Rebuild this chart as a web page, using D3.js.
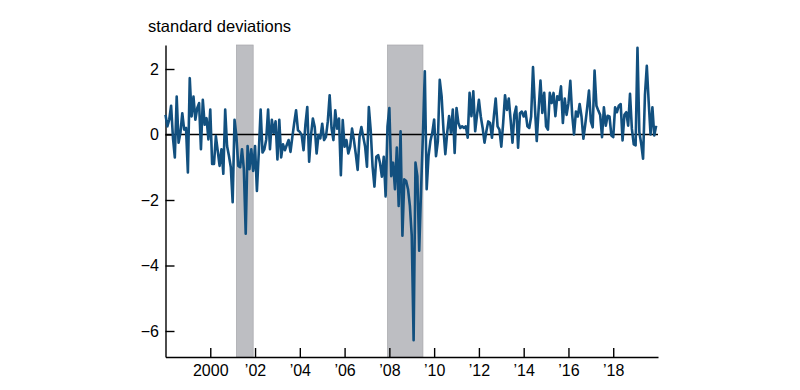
<!DOCTYPE html>
<html><head><meta charset="utf-8">
<script src="https://cdn.jsdelivr.net/npm/d3@7"></script>
<style>
body{margin:0;background:#fff}
svg{display:block}
text{font-family:"Liberation Sans",Arial,Helvetica,sans-serif}
</style>
</head><body>
<svg id="chart" width="800" height="390"></svg>
<script>
// ---- data ----
const startYear = 1998; // monthly series, Jan 1998 – Dec 2019
const values = [
  // 1998–2003
  0.6,0.25,0.45,0.88,-0.1,-0.7,1.16,-0.25,0.05,0.65,0.15,0.2,
  -1.16,1.72,0.55,1.16,0.45,0.8,0.96,-0.45,1.06,0.3,0.5,-0.15,
  0.76,-0.9,-0.9,-0.05,-0.5,-0.96,-0.45,-1.2,0.76,-0.35,-0.65,-1.0,
  -2.07,0.45,-0.05,-0.96,-1.0,-0.45,-1.06,-3.03,-0.35,-1.06,-0.45,-1.11,
  -0.35,-1.72,-0.55,0.76,-0.55,-0.45,-0.15,0.76,-0.45,0.45,0.05,0.4,
  -0.76,0.45,-0.7,-0.3,
  // 2003–2007
  -0.48,-0.32,-0.17,-0.53,-0.07,0.35,0.74,0.13,0.08,-0.02,-0.48,0.3,
  0.84,-0.83,-0.02,0.49,0.23,-0.58,-0.02,-0.12,0.33,-0.17,-0.07,0.4,
  1.2,0.2,-0.17,0.74,0.18,0.49,-1.24,0.44,-0.37,-0.17,-0.58,-0.37,
  0.18,-0.17,-0.6,-1.08,-0.07,0.23,-0.07,-0.37,-0.98,0.84,0.13,-0.98,
  -1.59,-0.68,-0.63,-0.88,-1.29,-0.68,-1.89,
  // 2007–2011
  0.25,0.81,-1.27,-0.86,-1.67,-0.4,-2.18,0.1,-3.09,-1.37,-1.42,-1.67,
  -2.18,-3.09,-6.28,-0.86,-1.27,-3.55,-1.67,0.0,1.93,-1.67,-0.66,-0.2,
  0.05,0.46,-0.66,-0.2,1.67,1.17,0.15,-0.6,0.05,0.56,0.05,0.76,
  -0.56,0.81,0.35,0.2,0.25,0.2,0.25,-0.1,1.27,0.56,1.32,
  // 2011–2015
  0.1,0.6,1.06,0.55,0.2,-0.25,0.1,0.4,0.35,-0.1,0.55,1.1,
  0.25,0.15,-0.37,0.35,1.2,0.75,1.1,0.45,-0.25,0.6,0.85,-0.4,
  0.65,0.7,0.55,0.7,0.25,0.2,0.55,2.06,0.86,-0.2,0.76,1.65,
  0.66,1.27,0.25,0.15,1.27,0.96,1.27,0.56,1.17,1.06,1.47,0.35,
  1.1,0.6,
  // 2016–2019
  0.95,1.64,0.6,0.0,0.7,0.55,0.93,0.55,-0.13,0.3,0.8,1.34,
  0.4,0.22,1.95,0.88,0.73,0.6,-0.08,0.83,0.27,0.57,0.55,-0.03,
  -0.08,0.83,0.68,0.88,0.93,-0.18,0.6,0.68,0.27,1.24,0.17,-0.3,
  -0.33,2.65,0.07,-0.28,-0.74,1.2,2.1,1.0,0.0,0.83,-0.03,0.27
];
const recessions = [[2001 + 2/12, 2001 + 11/12], [2007 + 11/12, 2009 + 6/12]];
const yTicks = [2, 0, -2, -4, -6];
const xTicks = [2000, 2002, 2004, 2006, 2008, 2010, 2012, 2014, 2016, 2018];
const xTickLabels = ["2000", "\u201902", "\u201904", "\u201906", "\u201908", "\u201910", "\u201912", "\u201914", "\u201916", "\u201918"];
const yTitle = "standard deviations";

// ---- layout ----
const svg = d3.select("#chart");
const x = d3.scaleLinear().domain([1998, 2020]).range([165.5, 658]);
const y = d3.scaleLinear().domain([-6.794, 2.733]).range([357, 45]);
const FS = 16;

// recession shading
svg.append("g").selectAll("rect").data(recessions).join("rect")
  .attr("x", d => x(d[0]))
  .attr("width", d => x(d[1]) - x(d[0]))
  .attr("y", y.range()[1])
  .attr("height", y.range()[0] - y.range()[1])
  .attr("fill", "#bdbec2")
  .attr("stroke", "#a6a7ab")
  .attr("stroke-width", 0.7);

// zero line
svg.append("line")
  .attr("x1", x.range()[0]).attr("x2", x.range()[1])
  .attr("y1", y(0)).attr("y2", y(0))
  .attr("stroke", "#000").attr("stroke-width", 1.4);

// axes
const yAxis = svg.append("g")
  .attr("transform", `translate(${x.range()[0]},0)`)
  .call(d3.axisLeft(y).tickValues(yTicks).tickSize(-9).tickSizeOuter(0).tickPadding(6.5));
const xAxis = svg.append("g")
  .attr("transform", `translate(0,${y.range()[0]})`)
  .call(d3.axisBottom(x).tickValues(xTicks).tickSize(-9).tickSizeOuter(0).tickPadding(7.5)
        .tickFormat((d, i) => xTickLabels[i]));
[yAxis, xAxis].forEach(g => {
  g.selectAll("path,line").attr("stroke", "#000").attr("stroke-width", 1.4);
  g.selectAll("text").attr("fill", "#000").style("font-size", FS + "px")
    .style("font-family", '"Liberation Sans",Arial,Helvetica,sans-serif');
});

// data line
const line = d3.line()
  .x((d, i) => x(startYear + i / 12))
  .y(d => y(d));
svg.append("path")
  .datum(values)
  .attr("d", line)
  .attr("fill", "none")
  .attr("stroke", "#12507f")
  .attr("stroke-width", 2.6)
  .attr("stroke-linejoin", "round");

// y title
svg.append("text")
  .attr("x", 148).attr("y", 32)
  .style("font-size", "16.5px")
  .attr("fill", "#000")
  .text(yTitle);
</script>
</body></html>
